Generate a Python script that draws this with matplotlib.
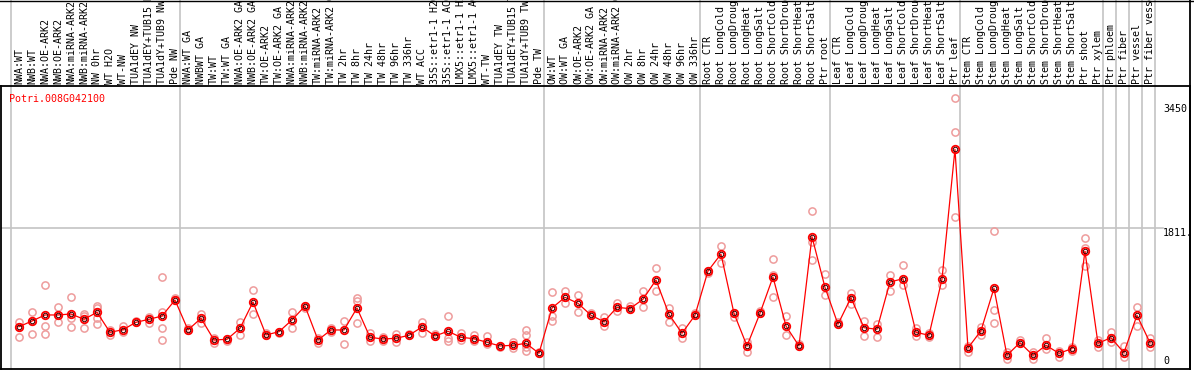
import matplotlib.pyplot as plt
import matplotlib.transforms as mtransforms

# sample names, left to right
samples = [
    "NWA:WT", "NWB:WT", "NWA:OE-ARK2", "NWB:OE-ARK2", "NWA:miRNA-ARK2", "NWB:miRNA-ARK2",
    "NW 0hr", "WT H2O", "WT-NW", "TUA1dEY NW", "TUA1dEY+TUB15 NW", "TUA1dY+TUB9 NW", "Pde NW",
    "NWA:WT GA", "NWBWT GA", "TW:WT", "TW:WT GA", "NWA:OE-ARK2 GA", "NWB:OE-ARK2 GA",
    "TW:OE-ARK2", "TW:OE-ARK2 GA", "NWA:miRNA-ARK2 GA", "NWB:miRNA-ARK2 GA", "TW:miRNA-ARK2",
    "TW:miRNA-ARK2 GA", "TW 2hr", "TW 8hr", "TW 24hr", "TW 48hr", "TW 96hr", "TW 336hr",
    "WT ACC", "35S::etr1-1 H2O", "35S::etr1-1 ACC", "LMX5::etr1-1 H2O", "LMX5::etr1-1 ACC",
    "WT-TW", "TUA1dEY TW", "TUA1dEY+TUB15 TW", "TUA1dY+TUB9 TW", "Pde TW",
    "OW:WT", "OW:WT GA", "OW:OE-ARK2", "OW:OE-ARK2 GA", "OW:miRNA-ARK2", "OW:miRNA-ARK2 GA",
    "OW 2hr", "OW 8hr", "OW 24hr", "OW 48hr", "OW 96hr", "OW 336hr",
    "Root CTR", "Root LongCold", "Root LongDrought", "Root LongHeat", "Root LongSalt",
    "Root ShortCold", "Root ShortDrought", "Root ShortHeat", "Root ShortSalt", "Ptr root",
    "Leaf CTR", "Leaf LongCold", "Leaf LongDrought", "Leaf LongHeat", "Leaf LongSalt",
    "Leaf ShortCold", "Leaf ShortDrought", "Leaf ShortHeat", "Leaf ShortSalt", "Ptr leaf",
    "Stem CTR", "Stem LongCold", "Stem LongDrought", "Stem LongHeat", "Stem LongSalt",
    "Stem ShortCold", "Stem ShortDrought", "Stem ShortHeat", "Stem ShortSalt", "Ptr shoot",
    "Ptr xylem", "Ptr phloem", "Ptr fiber", "Ptr vessel", "Ptr fiber vessel",
]

# mean expression per sample
means = [
    513, 588, 668, 668, 681, 611, 703, 439, 474, 571, 611, 654, 865,
    470, 624, 338, 347, 492, 839, 404, 447, 602, 786, 338, 470, 470, 760, 373,
    351, 360, 400, 509, 391, 453, 373, 355, 307, 259, 268, 294, 162,
    760, 901, 822, 664, 579, 769, 751, 875, 1129, 677, 426, 664,
    1248, 1472, 690, 259, 690, 1169, 522, 259, 1701, 1033,
    545, 896, 500, 479, 1103, 1146, 439, 400, 1139, 2854,
    232, 460, 1020, 136, 302, 136, 268, 162, 223, 1508, 294,
    368, 170, 664, 302,
]

# individual replicates per sample
replicates = [
    [579, 373, 513], [703, 417, 588], [1063, 522, 417], [769, 571, 668], [905, 624, 513],
    [681, 492, 654], [786, 624, 545, 760], [404, 470], [526, 443], [571, 588], [645, 566],
    [1169, 703, 496, 334], [888, 865],
    [470, 496], [681, 566], [302, 364], [347, 325], [575, 404], [997, 677], [404, 430],
    [447, 430], [703, 492], [786, 760], [302, 364], [500, 443], [584, 285], [888, 848, 566],
    [426, 328], [325, 377], [417, 315], [400, 417], [579, 434], [391, 417], [654, 360, 325],
    [426, 338], [404, 325], [391, 285], [259, 239], [311, 232], [470, 404, 249, 197], [162, 179],
    [967, 654, 592], [984, 830], [931, 711], [664, 694], [645, 522], [822, 720], [751, 786],
    [984, 777], [1284, 984], [764, 579], [492, 368], [664, 694],
    [1248, 1218], [1577, 1350], [690, 645], [183, 311], [690, 720], [1402, 1195, 901],
    [654, 404], [259, 285], [2040, 1635, 1393], [1204, 931],
    [545, 575], [954, 813], [592, 391], [545, 381], [1195, 988], [1327, 1063], [492, 391],
    [426, 377], [1261, 1063], [3526, 3078, 1956],
    [183, 259], [513, 404], [1776, 733, 558], [183, 83], [338, 298], [91, 179], [360, 219],
    [197, 113], [245, 197], [1679, 1547, 1314], [249, 334],
    [443, 307], [259, 117], [777, 522], [368, 249],
]

# index of first sample in each group (last entry = end)
group_starts = [0, 13, 41, 53, 63, 73, 84, 85, 86, 87, 88]
ytick_vals = [0, 1811, 3450]
ytick_text = ["0", "1811.", "3450."]
gene = "Potri.008G042100"

W, H = 1194, 370
fig = plt.figure(figsize=(W / 100, H / 100), dpi=100)
ax = fig.add_axes([1 / W, 1 / H, 1189 / W, 283 / H])
ax.set_xlim(-1.385, 90.08)
ax.set_ylim(-45, 3689)
ax.set_xticks([])
ax.set_yticks([])
for s in ax.spines.values():
    s.set_linewidth(1.3)
    s.set_color("black")

grid_c = "#c4c4c4"
over = 369 / 283  # reach up to the top of the figure

for b in group_starts:
    ax.axvline(b - 8 / 13, ymin=0, ymax=over, color=grid_c, lw=1.2,
               clip_on=False, zorder=1)
ax.axhline(1811, xmin=0, xmax=0.977, color=grid_c, lw=1.2, zorder=1)

# right border continues up through the label band
ax.axvline(90.08, ymin=0, ymax=over, color="black", lw=1.3, clip_on=False)
fig.add_artist(plt.Line2D([0, 1], [1 - 0.5 / H, 1 - 0.5 / H], color="black", lw=1.0))

xs = list(range(len(samples)))

# replicate points
for i, reps in enumerate(replicates):
    ax.plot([i] * len(reps), reps, linestyle="none", marker="o", ms=5.2,
            mfc="none", mec="#ee9c9c", mew=1.1, zorder=2)

# mean line and markers
ax.plot(xs, means, color="red", lw=0.9, zorder=3)
ax.plot(xs, means, linestyle="none", marker="o", ms=5.4, mfc="none",
        mec="red", mew=1.3, zorder=4)
ax.plot(xs, means, linestyle="none", marker="o", ms=3.2, mfc="none",
        mec="#400000", mew=0.7, zorder=5)

font = "DejaVu Sans Mono"
trans = mtransforms.blended_transform_factory(ax.transData, ax.transAxes)
for i, name in enumerate(samples):
    ax.text(i, 1 + 2 / 283, name, rotation=90, ha="center", va="bottom",
            fontsize=7.2, family=font, transform=trans, clip_on=False)

for v, t in zip(ytick_vals, ytick_text):
    ax.text(88.0, v, t, ha="left", va="bottom" if v == 0 else "top",
            fontsize=7.2, family=font)

ax.text(0.007, 0.972, gene, color="red", ha="left", va="top",
        fontsize=7.2, family=font, transform=ax.transAxes)

fig.savefig("out.png", dpi=100)
